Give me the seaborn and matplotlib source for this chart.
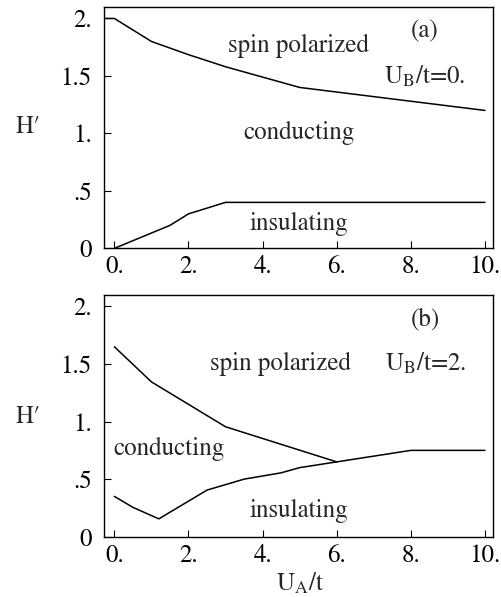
import pandas as pd
import seaborn as sns
import matplotlib.pyplot as plt

sns.set_style("ticks")
plt.rcParams['font.family'] = ['STIXGeneral', 'Liberation Serif', 'DejaVu Serif']
plt.rcParams['mathtext.fontset'] = 'stix'

# panel (a): U_B/t = 0
a_upper_x = [-0.3, 0.0, 1.0, 2.0, 3.0, 4.0, 5.0, 10.0]
a_upper_y = [2.0, 2.0, 1.80, 1.685, 1.58, 1.49, 1.40, 1.20]
a_lower_x = [0.0, 1.5, 2.0, 3.0, 10.0]
a_lower_y = [0.0, 0.20, 0.30, 0.40, 0.40]

# panel (b): U_B/t = 2
b_upper_x = [0.0, 1.0, 3.0, 6.0]
b_upper_y = [1.65, 1.345, 0.955, 0.65]
b_lower_x = [0.0, 0.5, 1.2, 2.5, 3.5, 4.5, 5.0, 6.0, 8.0, 10.0]
b_lower_y = [0.35, 0.255, 0.155, 0.405, 0.50, 0.555, 0.60, 0.65, 0.75, 0.75]

xticks = [0, 2, 4, 6, 8, 10]
xticklabels = ['0.', '2.', '4.', '6.', '8.', '10.']
yticks = [0, 0.5, 1.0, 1.5, 2.0]
yticklabels = ['0', '.5', '1.', '1.5', '2.']

fs = 18
fig = plt.figure(figsize=(5.02, 5.97), dpi=100)
ax1 = fig.add_axes([0.2072, 0.584, 0.775, 0.4043])
ax2 = fig.add_axes([0.2072, 0.101, 0.775, 0.4049])

curves = [
    (ax1, a_upper_x, a_upper_y), (ax1, a_lower_x, a_lower_y),
    (ax2, b_upper_x, b_upper_y), (ax2, b_lower_x, b_lower_y),
]
for ax, xs, ys in curves:
    df = pd.DataFrame({'x': xs, 'y': ys})
    sns.lineplot(data=df, x='x', y='y', ax=ax, color='black', lw=1.1,
                 sort=False, estimator=None)

for ax in (ax1, ax2):
    ax.set_xlim(-0.28, 10.22)
    ax.set_ylim(0, 2.1)
    ax.set_xticks(xticks)
    ax.set_xticklabels(xticklabels)
    ax.set_yticks(yticks)
    ax.set_yticklabels(yticklabels)
    ax.tick_params(direction='in', length=5, width=0.8, labelsize=fs,
                   colors='black')
    ax.tick_params(axis='x', pad=5)
    ax.tick_params(axis='y', pad=9)
    ax.set_xlabel('')
    ax.set_ylabel('')
    for s in ax.spines.values():
        s.set_visible(True)
        s.set_color('black')
        s.set_linewidth(1.0)

ax1.text(8.38, 1.89, '(a)', fontsize=fs, ha='center', va='center')
ax1.text(4.98, 1.76, 'spin polarized', fontsize=fs, ha='center', va='center')
ax1.text(8.38, 1.49, r'U$_\mathrm{B}$/t=0.', fontsize=fs, ha='center', va='center')
ax1.text(4.98, 1.0, 'conducting', fontsize=fs, ha='center', va='center')
ax1.text(4.98, 0.21, 'insulating', fontsize=fs, ha='center', va='center')

ax2.text(8.38, 1.89, '(b)', fontsize=fs, ha='center', va='center')
ax2.text(4.47, 1.50, 'spin polarized', fontsize=fs, ha='center', va='center')
ax2.text(8.41, 1.50, r'U$_\mathrm{B}$/t=2.', fontsize=fs, ha='center', va='center')
ax2.text(1.48, 0.76, 'conducting', fontsize=fs, ha='center', va='center')
ax2.text(4.98, 0.22, 'insulating', fontsize=fs, ha='center', va='center')

fig.text(28 / 502, 1 - 127 / 597, 'H′', fontsize=fs, ha='center', va='center')
fig.text(28 / 502, 1 - 417 / 597, 'H′', fontsize=fs, ha='center', va='center')
fig.text(300 / 502, 1 - 584 / 597, r'U$_\mathrm{A}$/t', fontsize=fs,
         ha='center', va='center')

fig.savefig('out.png', dpi=100)
